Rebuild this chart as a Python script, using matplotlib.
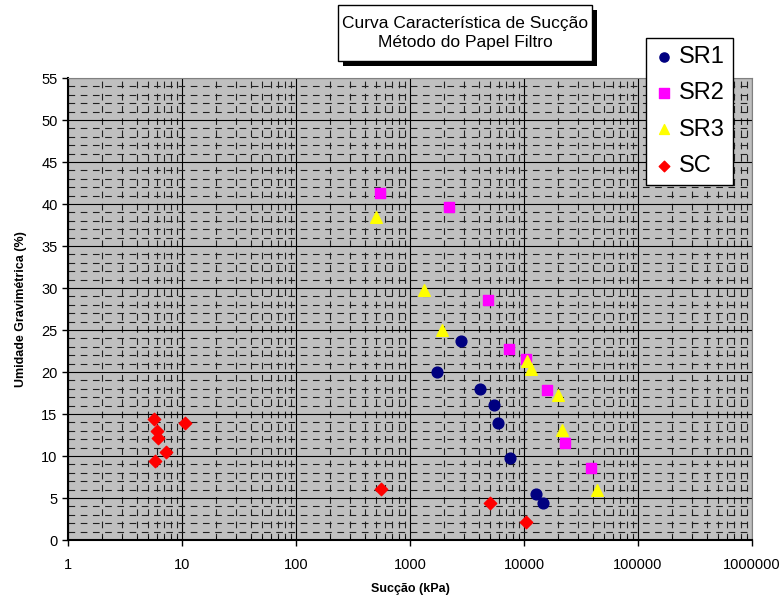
import matplotlib.pyplot as plt
import numpy as np
from matplotlib.patches import Rectangle
from matplotlib.ticker import FixedLocator, LogLocator, FuncFormatter, MultipleLocator

plt.rcParams['font.family'] = ['Liberation Sans', 'DejaVu Sans']

# data (suction in kPa, moisture in %)
sr1_x = [1730, 2800, 4100, 5450, 5900, 7550, 12700, 14700]
sr1_y = [20.0, 23.7, 18.0, 16.1, 13.9, 9.8, 5.5, 4.4]

sr2_x = [546, 2200, 4830, 7400, 10400, 15800, 22700, 38700]
sr2_y = [41.3, 39.6, 28.6, 22.7, 21.6, 17.8, 11.6, 8.6]

sr3_x = [500, 1320, 1920, 10600, 11500, 19700, 21500, 43500]
sr3_y = [38.5, 29.8, 25.0, 21.3, 20.4, 17.3, 13.1, 6.0]

sc_x = [5.65, 10.7, 6.0, 6.15, 7.25, 5.75, 557, 5000, 10400]
sc_y = [14.4, 13.9, 13.0, 12.1, 10.5, 9.4, 6.1, 4.4, 2.1]

x_ticks = [1, 10, 100, 1000, 10000, 100000, 1000000]

fig = plt.figure(figsize=(7.8, 6.03), dpi=100)
ax = fig.add_axes([68 / 780, 63 / 603, 684 / 780, 462 / 603])
ax.set_facecolor('#c0c0c0')

ax.set_xscale('log')
ax.set_xlim(1, 1000000)
ax.set_ylim(0, 55)

ax.xaxis.set_major_locator(FixedLocator(x_ticks))
ax.xaxis.set_major_formatter(FuncFormatter(lambda v, p: '%d' % v))
ax.xaxis.set_minor_locator(LogLocator(base=10, subs=np.arange(2, 10), numticks=20))
ax.xaxis.set_minor_formatter(FuncFormatter(lambda v, p: ''))
ax.yaxis.set_major_locator(MultipleLocator(5))
ax.yaxis.set_minor_locator(MultipleLocator(1))

ax.grid(which='major', color='black', linewidth=0.8, linestyle='-')
ax.grid(which='minor', color='#202020', linewidth=0.8, linestyle=(0, (6, 5)))
ax.set_axisbelow(True)

ax.tick_params(which='major', direction='out', length=4, labelsize=10.5, width=1)
ax.tick_params(axis='x', which='minor', direction='in', length=3)
ax.tick_params(axis='y', which='minor', length=0)
ax.tick_params(axis='x', pad=9)

for s in ['left', 'bottom']:
    ax.spines[s].set_linewidth(1.5)
for s in ['right', 'top']:
    ax.spines[s].set_color('#808080')

ax.scatter(sr1_x, sr1_y, marker='o', s=60, color='#000080', label='SR1', zorder=3)
ax.scatter(sr2_x, sr2_y, marker='s', s=60, color='#ff00ff', label='SR2', zorder=3)
ax.scatter(sr3_x, sr3_y, marker='^', s=70, color='#ffff00', label='SR3', zorder=3)
ax.scatter(sc_x, sc_y, marker='D', s=40, color='#ff0000', label='SC', zorder=3)

ax.set_xlabel('Sucção (kPa)', fontsize=9, fontweight='bold', labelpad=8)
ax.set_ylabel('Umidade Gravimétrica (%)', fontsize=9, fontweight='bold', labelpad=10)

leg = fig.legend(loc='upper left', bbox_to_anchor=(646 / 780, 1 - 38 / 603),
                 fontsize=17, frameon=True, fancybox=False, edgecolor='black',
                 markerscale=0.85, handletextpad=0.25, labelspacing=0.6,
                 borderpad=0.35, handlelength=0.8, borderaxespad=0)
leg.get_frame().set_linewidth(1)
leg.get_frame().set_alpha(1)

# title box with shadow
fig.add_artist(Rectangle((343 / 780, 1 - 66 / 603), 254 / 780, 56 / 603,
                         transform=fig.transFigure, facecolor='black', edgecolor='none'))
fig.add_artist(Rectangle((338 / 780, 1 - 61 / 603), 254 / 780, 56 / 603,
                         transform=fig.transFigure, facecolor='white', edgecolor='black', linewidth=1))
fig.text(465 / 780, 1 - 33 / 603, 'Curva Característica de Sucção\nMétodo do Papel Filtro',
         ha='center', va='center', fontsize=12.5, linespacing=1.3)

plt.savefig('out.png', dpi=100)
